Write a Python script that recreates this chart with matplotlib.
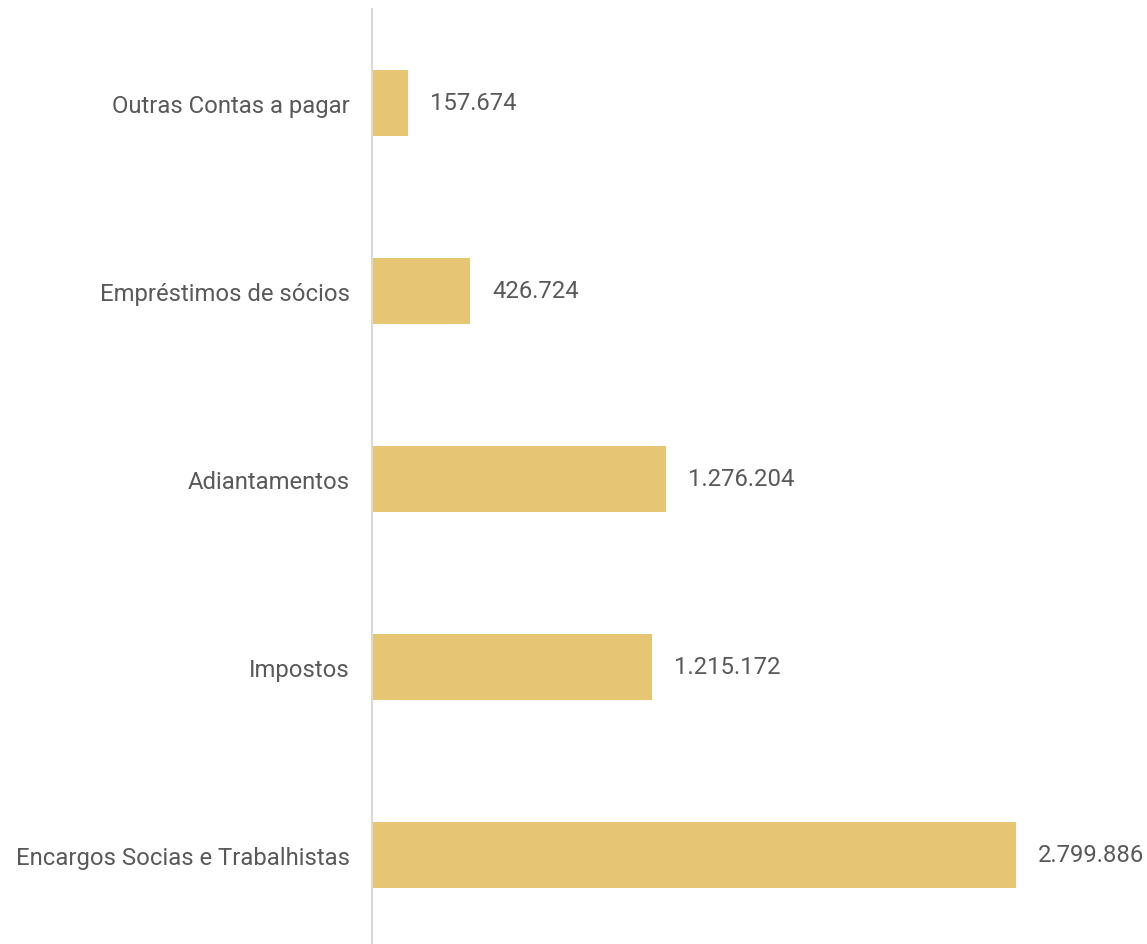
import matplotlib.pyplot as plt

categorias = ["Encargos Socias e Trabalhistas", "Impostos", "Adiantamentos",
              "Empréstimos de sócios", "Outras Contas a pagar"]
valores = [2799886, 1215172, 1276204, 426724, 157674]
rotulos = ["2.799.886", "1.215.172", "1.276.204", "426.724", "157.674"]

plt.rcParams['font.family'] = ['Roboto', 'DejaVu Sans']

fig = plt.figure(figsize=(11.47, 9.45), dpi=100)
ax = fig.add_axes([372 / 1147, 0, 775 / 1147, 935 / 945])

pos = list(range(len(categorias)))
bars = ax.barh(pos, valores, height=0.35, color="#E6C675")

for b, txt in zip(bars, rotulos):
    ax.annotate(txt, (b.get_width(), b.get_y() + b.get_height() / 2),
                xytext=(16, 0), textcoords="offset points",
                va="center", ha="left", fontsize=17.2, color="#595959")

ax.set_xlim(0, 3369400)
ax.set_ylim(-0.474, 4.5)
ax.set_yticks(pos)
ax.set_yticklabels(categorias, fontsize=17.2, color="#595959")
ax.tick_params(axis="y", length=0, pad=16)
ax.set_xticks([])

for s in ["top", "right", "bottom"]:
    ax.spines[s].set_visible(False)
ax.spines["left"].set_color("#D9D9D9")
ax.spines["left"].set_linewidth(1.5)

plt.savefig("out.png", dpi=100)
plt.close()
